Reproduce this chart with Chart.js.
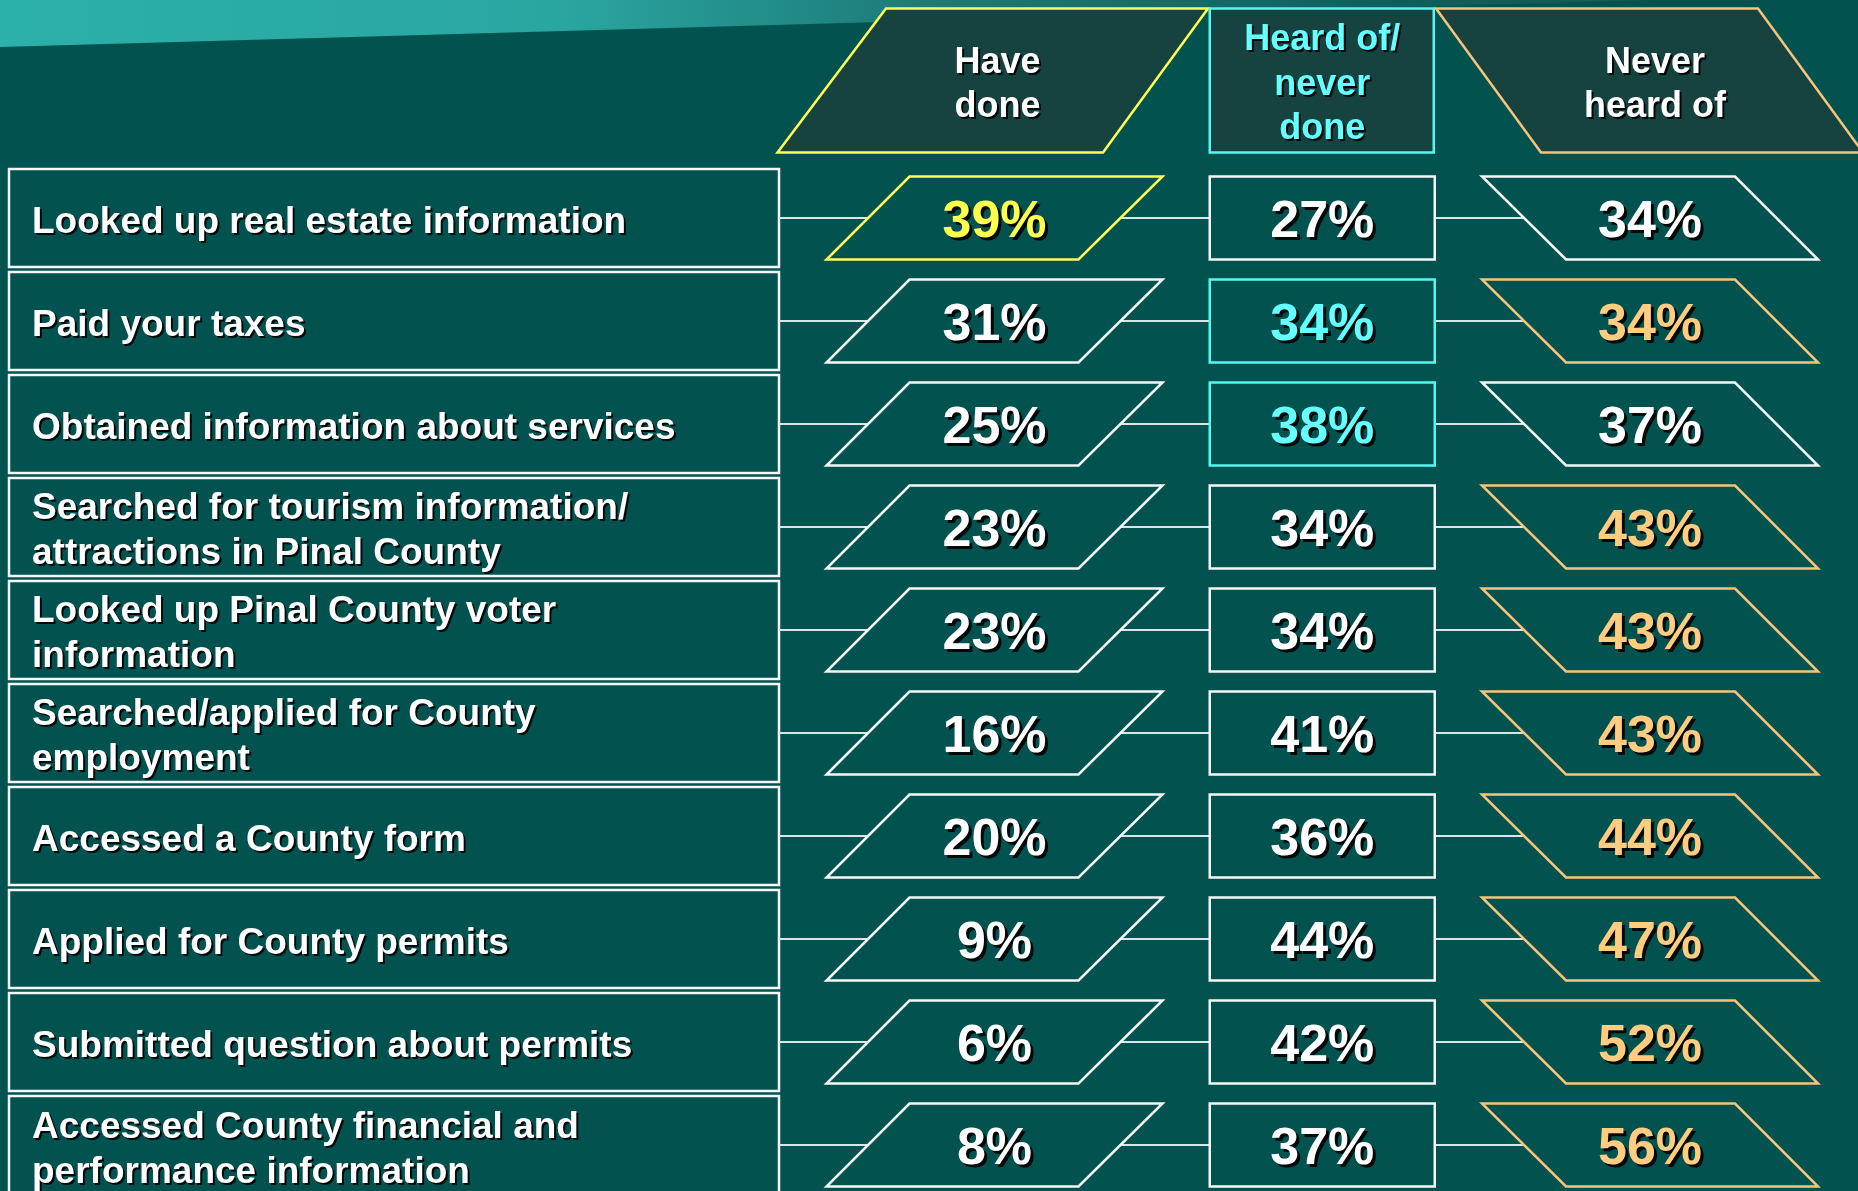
<!DOCTYPE html>
<html>
<head>
<meta charset="utf-8">
<script src="https://cdn.jsdelivr.net/npm/chart.js@4.4.0/dist/chart.umd.min.js"></script>
<style>
html,body{margin:0;padding:0;background:#02524F;overflow:hidden}
#wrap{width:1858px;height:1191px;position:relative}
</style>
</head>
<body>
<div id="wrap"><canvas id="c"></canvas></div>
<script>
// ---- data ----
const rowLabels = [
  ['Looked up real estate information'],
  ['Paid your taxes'],
  ['Obtained information about services'],
  ['Searched for tourism information/', 'attractions in Pinal County'],
  ['Looked up Pinal County voter', 'information'],
  ['Searched/applied for County', 'employment'],
  ['Accessed a County form'],
  ['Applied for County permits'],
  ['Submitted question about permits'],
  ['Accessed County financial and', 'performance information']
];
const columnHeaders = [['Have', 'done'], ['Heard of/', 'never', 'done'], ['Never', 'heard of']];
const haveDone       = [39, 31, 25, 23, 23, 16, 20, 9, 6, 8];
const heardNeverDone = [27, 34, 38, 34, 34, 41, 36, 44, 42, 37];
const neverHeardOf   = [34, 34, 37, 43, 43, 43, 44, 47, 52, 56];
const haveDoneHighlight       = [1, 0, 0, 0, 0, 0, 0, 0, 0, 0];
const heardNeverDoneHighlight = [0, 1, 1, 0, 0, 0, 0, 0, 0, 0];
const neverHeardOfHighlight   = [0, 1, 0, 1, 1, 1, 1, 1, 1, 1];

// ---- styles ----
const BG = '#02524F';
const HEADER_FILL = '#16423F';
const WHITE = '#F4F8F8';
const LINE = '#D9E6E5';
const accent = ['#FFFF55', '#55F7F0', '#F7C47A'];
const accentText = ['#FFFF4D', '#66FFFF', '#FFCC80'];
const FONT = '"Liberation Sans", Arial, Helvetica, sans-serif';
const headerTextShift = [3, 0, 5];

const columnValues = [haveDone, heardNeverDone, neverHeardOf];
const columnHighlights = [haveDoneHighlight, heardNeverDoneHighlight, neverHeardOfHighlight];

function poly(ctx, pts, fill, stroke, lw) {
  ctx.beginPath();
  ctx.moveTo(pts[0][0], pts[0][1]);
  for (let i = 1; i < pts.length; i++) ctx.lineTo(pts[i][0], pts[i][1]);
  ctx.closePath();
  if (fill) { ctx.fillStyle = fill; ctx.fill(); }
  if (stroke) { ctx.strokeStyle = stroke; ctx.lineWidth = lw; ctx.lineJoin = 'miter'; ctx.stroke(); }
}

function cellShape(c, cx, cy, h) {
  if (c === 0) return [[cx - 85, cy - h], [cx + 168, cy - h], [cx + 84, cy + h], [cx - 168, cy + h]];
  if (c === 1) return [[cx - 112.5, cy - h], [cx + 112.5, cy - h], [cx + 112.5, cy + h], [cx - 112.5, cy + h]];
  return [[cx - 168, cy - h], [cx + 85, cy - h], [cx + 168, cy + h], [cx - 84, cy + h]];
}
function headerShape(c, cx, cy, h) {
  if (c === 0) return [[cx - 108.5, cy - h], [cx + 213.5, cy - h], [cx + 108.5, cy + h], [cx - 217, cy + h]];
  if (c === 1) return [[cx - 112.5, cy - h], [cx + 111.5, cy - h], [cx + 111.5, cy + h], [cx - 112.5, cy + h]];
  return [[cx - 214, cy - h], [cx + 108, cy - h], [cx + 213, cy + h], [cx - 109, cy + h]];
}

function shadowText(ctx, txt, x, y, color, off) {
  ctx.save();
  ctx.shadowColor = 'rgba(0,0,0,0.9)';
  ctx.shadowOffsetX = off;
  ctx.shadowOffsetY = off;
  ctx.shadowBlur = 0;
  ctx.fillStyle = color;
  ctx.fillText(txt, x, y);
  ctx.restore();
}

const tablePlugin = {
  id: 'tablePlugin',
  beforeDraw(chart) {
    const ctx = chart.ctx;
    const W = chart.width, H = chart.height;
    ctx.save();
    ctx.fillStyle = BG;
    ctx.fillRect(0, 0, W, H);
    const g = ctx.createLinearGradient(0, 0, 1400, 0);
    g.addColorStop(0, '#2CB0AA');
    g.addColorStop(0.4, '#2AA6A1');
    g.addColorStop(0.65, '#1D7C79');
    g.addColorStop(1, '#0E5E5B');
    poly(ctx, [[0, 0], [1654, 0], [0, 47]], g, null, 0);
    ctx.restore();
  },
  afterDatasetsDraw(chart) {
    const ctx = chart.ctx;
    const xs = chart.scales.x, ys = chart.scales.y;
    ctx.save();
    const rowY = i => ys.getPixelForValue(i);
    const pitch = rowY(1) - rowY(0);
    const labelLeft = chart.chartArea.left + 9;
    const labelRight = xs.getPixelForValue(0) - 215.5;

    // headers
    const hy = rowY(0) - 137.5;
    chart.data.datasets.forEach((ds, c) => {
      const cx = xs.getPixelForValue(c);
      poly(ctx, headerShape(c, cx, hy, 72), HEADER_FILL, accent[c], 2.5);
      ctx.font = 'bold 36px ' + FONT;
      ctx.textAlign = 'center';
      ctx.textBaseline = 'alphabetic';
      const lines = columnHeaders[c];
      const gap = 44.5;
      const first = hy + 14.5 - (lines.length - 1) * gap / 2;
      lines.forEach((t, k) => shadowText(ctx, t, cx + headerTextShift[c], first + k * gap, c === 1 ? accentText[1] : '#FFFFFF', 2));
    });

    // label boxes and connectors
    rowLabels.forEach((lab, i) => {
      const cy = rowY(i);
      const boxH = pitch - 5;
      ctx.strokeStyle = WHITE;
      ctx.lineWidth = 2.5;
      ctx.strokeRect(labelLeft, cy - boxH / 2, labelRight - labelLeft, boxH);
      ctx.beginPath();
      ctx.moveTo(labelRight, cy);
      ctx.lineTo(xs.getPixelForValue(2) - 110, cy);
      ctx.strokeStyle = LINE;
      ctx.lineWidth = 2;
      ctx.stroke();
      ctx.font = 'bold 37px ' + FONT;
      ctx.textAlign = 'left';
      ctx.textBaseline = 'alphabetic';
      const gap = 45;
      const first = cy + 15 - (lab.length - 1) * gap / 2;
      lab.forEach((t, k) => shadowText(ctx, t, labelLeft + 23, first + k * gap, '#FFFFFF', 2));
    });

    // cells
    chart.data.datasets.forEach((ds, c) => {
      const meta = chart.getDatasetMeta(c);
      meta.data.forEach((el, i) => {
        const cx = el.x, cy = el.y;
        const hi = columnHighlights[c][i];
        poly(ctx, cellShape(c, cx, cy, 41.5), BG, hi ? accent[c] : WHITE, 2.5);
        ctx.font = 'bold 52px ' + FONT;
        ctx.textAlign = 'center';
        ctx.textBaseline = 'alphabetic';
        shadowText(ctx, ds.data[i].v + '%', cx, cy + 19, hi ? accentText[c] : '#FFFFFF', 3);
      });
    });
    ctx.restore();
  }
};

new Chart(document.getElementById('c'), {
  type: 'scatter',
  data: {
    datasets: columnValues.map((vals, c) => ({
      label: columnHeaders[c].join(' '),
      data: vals.map((v, i) => ({ x: c, y: i, v: v })),
      pointRadius: 0,
      pointHoverRadius: 0
    }))
  },
  options: {
    responsive: true,
    maintainAspectRatio: false,
    animation: false,
    events: [],
    layout: { padding: 0 },
    plugins: { legend: { display: false }, tooltip: { enabled: false } },
    scales: {
      x: { type: 'linear', min: -3.0343, max: 2.6346, display: false },
      y: { type: 'linear', reverse: true, min: -2.1165, max: 9.4466, display: false }
    }
  },
  plugins: [tablePlugin]
});
</script>
</body>
</html>
